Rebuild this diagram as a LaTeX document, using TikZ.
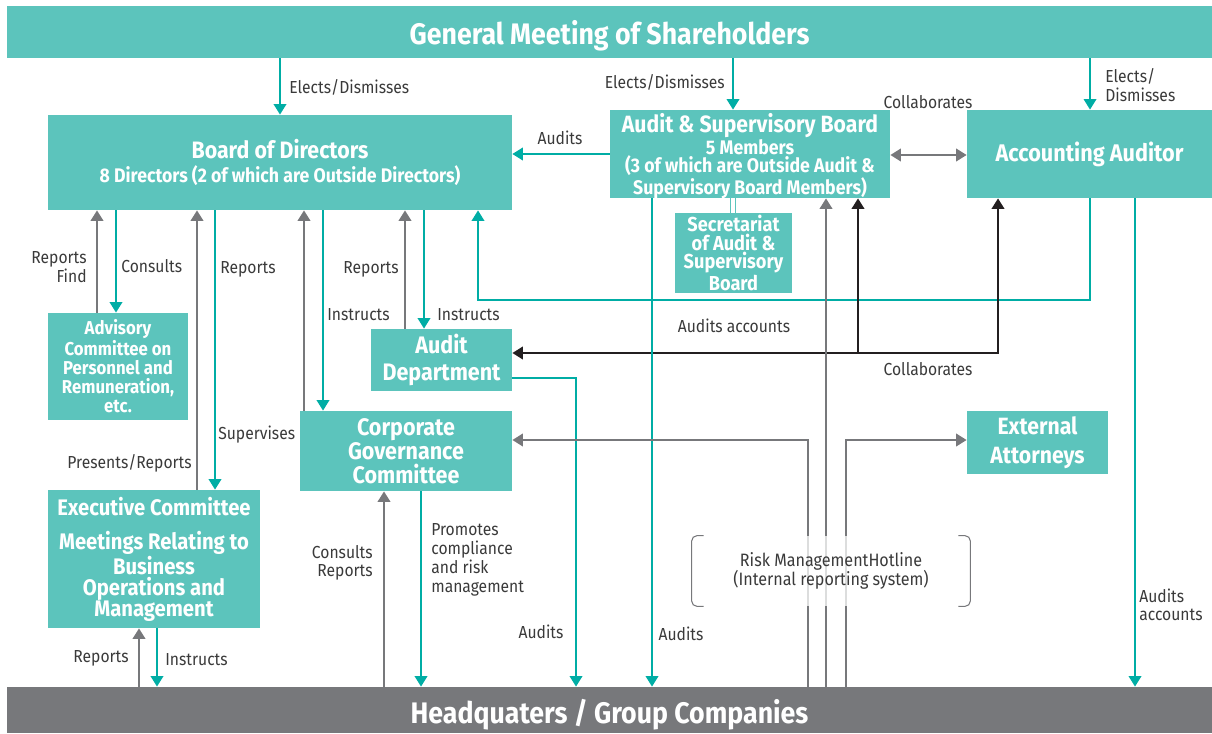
\documentclass[tikz,border=0pt]{standalone}
\usepackage{fontspec}
\setmainfont{Fira Sans}[FakeStretch=0.9]
\usepackage{tikz}
\usetikzlibrary{calc,arrows.meta,positioning}
\definecolor{gc-box}{HTML}{5CC4BC}
\definecolor{gc-teal}{HTML}{00ADA5}
\definecolor{gc-gray}{HTML}{77787B}
\definecolor{gc-dark}{HTML}{231F20}
\definecolor{gc-text}{HTML}{3A3A3A}

\begin{document}
\begin{tikzpicture}[x=0.02cm, y=-0.02cm,
    box/.style={fill=gc-box, text=white, font=\bfseries, align=center, inner sep=0pt},
    lbl/.style={text=gc-text, font=\fontsize{9.9}{10.6}\selectfont, inner sep=0pt},
    tarrow/.style={draw=gc-teal, line width=1.4pt, -{Triangle[width=7pt,length=6pt]}},
    garrow/.style={draw=gc-gray, line width=1.5pt, -{Triangle[width=7pt,length=6pt]}},
    karrow/.style={draw=gc-dark, line width=1.5pt, -{Triangle[width=7pt,length=6pt]}}]
    \useasboundingbox (0,0) rectangle (1212,733);
    \node[box, minimum width=24.1cm, minimum height=1.04cm, text depth=0pt, font=\bfseries\fontsize{16.9}{19}\selectfont] (gms) at (609.5,32) {General Meeting of Shareholders};
    \node[box, fill=gc-gray, minimum width=24.1cm, minimum height=0.92cm, text height=15pt, text depth=0pt, font=\bfseries\fontsize{16.9}{19}\selectfont] (hq) at (609.5,710) {Headquaters / Group Companies};
    \node[box, minimum width=9.28cm, minimum height=1.9cm, font=\bfseries\fontsize{11.2}{14}\selectfont] (bod) at (280,162.5) {{\fontsize{13.5}{15}\selectfont Board of Directors}\\8 Directors (2 of which are Outside Directors)};
    \node[box, minimum width=5.6cm, minimum height=1.76cm, text depth=0pt, font=\bfseries\fontsize{11.2}{10.4}\selectfont] (asb) at (750,154) {{\fontsize{13.4}{12.4}\selectfont Audit \& Supervisory Board}\\5 Members\\(3 of which are Outside Audit \&\\Supervisory Board Members)};
    \node[box, minimum width=4.9cm, minimum height=1.76cm, font=\bfseries\fontsize{13.7}{16}\selectfont] (acc) at (1089.5,154) {Accounting Auditor};
    \node[box, minimum width=2.34cm, minimum height=1.6cm, font=\bfseries\fontsize{11.5}{10.6}\selectfont] (sec) at (733.5,253) {Secretariat\\of Audit \&\\Supervisory\\Board};
    \node[box, minimum width=2.8cm, minimum height=2.14cm, font=\bfseries\fontsize{10.6}{10.8}\selectfont] (adv) at (118,366.5) {Advisory\\Committee on\\Personnel and\\Remuneration,\\etc.};
    \node[box, minimum width=2.82cm, minimum height=1.24cm, font=\bfseries\fontsize{13.6}{15.3}\selectfont] (aud) at (441.5,360) {Audit\\Department};
    \node[box, minimum width=4.24cm, minimum height=1.6cm, font=\bfseries\fontsize{13.6}{13.6}\selectfont] (cgc) at (406,451) {Corporate\\Governance\\Committee};
    \node[box, minimum width=2.82cm, minimum height=1.26cm, font=\bfseries\fontsize{13.4}{16.4}\selectfont] (ext) at (1037.5,442.5) {External\\Attorneys};
    \node[box, minimum width=4.24cm, minimum height=2.76cm, font=\bfseries\fontsize{12.8}{11.8}\selectfont] (exe) at (154,559) {Executive Committee\\[8pt]Meetings Relating to\\Business\\Operations and\\Management};

    \draw[tarrow] (gms.south -| 280,0) -- (bod.north -| 280,0);
    \draw[tarrow] (gms.south -| 733,0) -- (asb.north -| 733,0);
    \draw[tarrow] (gms.south -| 1090,0) -- (acc.north -| 1090,0);
    \draw[tarrow] (asb.west |- 0,154) -- (bod.east |- 0,154);
    \draw[draw=gc-gray, line width=1.5pt, {Triangle[width=7pt,length=6pt]}-{Triangle[width=7pt,length=6pt]}] (asb.east |- 0,155) -- (acc.west |- 0,155);
    \draw[gc-box, double=white, double distance=2pt, line width=0.6pt] (asb.south -| 733,0) -- (sec.north -| 733,0);

    \draw[garrow] (adv.north -| 97,0) -- (bod.south -| 97,0);
    \draw[tarrow] (bod.south -| 116,0) -- (adv.north -| 116,0);
    \draw[garrow] (exe.north -| 197,0) -- (bod.south -| 197,0);
    \draw[tarrow] (bod.south -| 215,0) -- (exe.north -| 215,0);
    \draw[garrow] (cgc.north -| 304,0) -- (bod.south -| 304,0);
    \draw[tarrow] (bod.south -| 323,0) -- (cgc.north -| 323,0);
    \draw[garrow] (aud.north -| 405,0) -- (bod.south -| 405,0);
    \draw[tarrow] (bod.south -| 424,0) -- (aud.north -| 424,0);
    \draw[tarrow] (acc.south -| 1090,0) -- (1090,300) -| (bod.south -| 478,0);

    \coordinate (kj) at (998,353);
    \draw[draw=gc-dark, line width=1.5pt, {Triangle[width=7pt,length=6pt]}-{Triangle[width=7pt,length=6pt]}] (aud.east |- kj) -- (kj) -- (acc.south -| kj);
    \draw[karrow] (858,353) -- (asb.south -| 858,0);

    \draw[tarrow] (aud.east |- 0,378) -| (hq.north -| 576,0);
    \draw[tarrow] (asb.south -| 652,0) -- (hq.north -| 652,0);
    \draw[garrow] (hq.north -| 826,0) -- (asb.south -| 826,0);
    \draw[garrow] (hq.north -| 808,0) |- (cgc.east |- 0,440);
    \draw[garrow] (hq.north -| 846,0) |- (ext.west |- 0,440);
    \draw[tarrow] (acc.south -| 1135,0) -- (hq.north -| 1135,0);
    \draw[garrow] (hq.north -| 139,0) -- (exe.south -| 139,0);
    \draw[tarrow] (exe.south -| 157,0) -- (hq.north -| 157,0);
    \draw[garrow] (hq.north -| 384,0) -- (cgc.south -| 384,0);
    \draw[tarrow] (cgc.south -| 421,0) -- (hq.north -| 421,0);

    \node[lbl, fill=white, fill opacity=0.75, text opacity=1, minimum width=5.56cm, minimum height=1.4cm, align=center, font=\fontsize{10.2}{10.8}\selectfont] (risk) at (831,571) {Risk ManagementHotline\\(Internal reporting system)};
    \draw[gc-gray, line width=0.6pt, rounded corners=3pt] ($(risk.north west)+(12,0)$) -- (risk.north west) -- (risk.south west) -- ++(12,0);
    \draw[gc-gray, line width=0.6pt, rounded corners=3pt] ($(risk.north east)+(-12,0)$) -- (risk.north east) -- (risk.south east) -- ++(-12,0);

    \node[lbl, anchor=west] (l-gms-bod) at (289,87) {Elects/Dismisses};
    \node[lbl, anchor=east] (l-gms-asb) at (725,82) {Elects/Dismisses};
    \node[lbl, anchor=west, align=left] (l-gms-acc) at (1105,85) {Elects/\\Dismisses};
    \node[lbl] (l-asb-bod) at (560,138) {Audits};
    \node[lbl] (l-asb-acc) at (928,102) {Collaborates};
    \node[lbl, anchor=east, align=right] (l-adv-up) at (87,267) {Reports\\Find};
    \node[lbl, anchor=west] (l-adv-down) at (121,266) {Consults};
    \node[lbl, anchor=west] (l-exe-up) at (220,269) {Reports};
    \node[lbl, anchor=east] (l-aud-up) at (399,269) {Reports};
    \node[lbl, anchor=west] (l-cgc-down) at (327,315) {Instructs};
    \node[lbl, anchor=west] (l-aud-down) at (437,315) {Instructs};
    \node[lbl] (l-acc-bod) at (734,326) {Audits accounts};
    \node[lbl] (l-aud-acc) at (928,369) {Collaborates};
    \node[lbl, anchor=west] (l-exe-down) at (218,435) {Supervises};
    \node[lbl, anchor=east] (l-exe-bod) at (192,463) {Presents/Reports};
    \node[lbl, anchor=east, align=right] (l-hq-cgc) at (373,563) {Consults\\Reports};
    \node[lbl, anchor=west, align=left, font=\fontsize{9.9}{10.8}\selectfont] (l-cgc-hq) at (431,560) {Promotes\\compliance\\and risk\\management};
    \node[lbl] (l-aud-hq) at (541,632) {Audits};
    \node[lbl] (l-asb-hq) at (681,634) {Audits};
    \node[lbl, anchor=west, align=left] (l-acc-hq) at (1139,605) {Audits\\accounts};
    \node[lbl, anchor=east] (l-hq-exe) at (129,658) {Reports};
    \node[lbl, anchor=west] (l-exe-hq) at (165,660) {Instructs};
\end{tikzpicture}
\end{document}
